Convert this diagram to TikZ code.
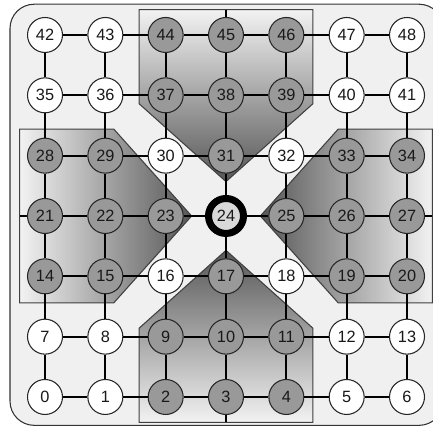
\documentclass[tikz,border=0pt]{standalone}
\usepackage{fontspec}
\setmainfont{Liberation Sans}
\usepackage{tikz}

\begin{document}
\begin{tikzpicture}[
    nodo/.style={circle, draw=black!85, line width=0.5pt, fill=white, text=black!90,
      minimum size=0.58cm, inner sep=0pt, font=\fontsize{7.7}{9}\selectfont},
    nodogris/.style={nodo, fill=black!40},
    centro/.style={nodo, fill=black!15, draw=black, line width=3.3pt},
    zona/.style={draw=black!75, line width=0.5pt},
    arista/.style={line width=0.9pt}
  ]
  \useasboundingbox (-3.746,-3.50) rectangle (3.431,3.58);

  % Marco (fondo gris claro)
  \draw[fill=black!6, draw=black!80, line width=0.5pt, rounded corners=0.4cm]
    (-3.58,-3.47) rectangle (3.6,3.51);

  % Zonas sombreadas (claro fuera, oscuro hacia el centro)
  \draw[zona, top color=black!5, bottom color=black!66]
    (-1.44,3.42) -- (1.44,3.42) -- (1.44,1.86) -- (0,0.57) -- (-1.44,1.86) -- cycle; % arriba
  \draw[zona, bottom color=black!5, top color=black!66]
    (-1.44,-3.42) -- (1.44,-3.42) -- (1.44,-1.86) -- (0,-0.57) -- (-1.44,-1.86) -- cycle; % abajo
  \draw[zona, left color=black!5, right color=black!66]
    (-3.42,-1.44) -- (-3.42,1.44) -- (-1.86,1.44) -- (-0.57,0) -- (-1.86,-1.44) -- cycle; % izquierda
  \draw[zona, right color=black!5, left color=black!66]
    (3.42,-1.44) -- (3.42,1.44) -- (1.86,1.44) -- (0.57,0) -- (1.86,-1.44) -- cycle; % derecha

  % Nodos blancos
  \foreach \i in {0,1,5,6,7,8,12,13,16,18,30,32,35,36,40,41,42,43,47,48}
    \node[nodo] (n\i) at ({mod(\i,7)-3},{div(\i,7)-3}) {\i};

  % Nodos grises (dentro de las zonas)
  \foreach \i in {2,3,4,9,10,11,14,15,17,19,20,21,22,23,25,26,27,28,29,31,33,34,37,38,39,44,45,46}
    \node[nodogris] (n\i) at ({mod(\i,7)-3},{div(\i,7)-3}) {\i};

  % Nodo central
  \node[centro] (n24) at (0,0) {24};

  % Aristas verticales
  \foreach \i in {0,...,41} {
    \pgfmathtruncatemacro\j{\i+7}
    \draw[arista] (n\i) -- (n\j);
  }

  % Aristas horizontales
  \foreach \f in {0,...,6}
    \foreach \c in {0,...,5} {
      \pgfmathtruncatemacro\i{7*\f+\c}
      \pgfmathtruncatemacro\j{\i+1}
      \draw[arista] (n\i) -- (n\j);
    }

  % Salidas hasta el borde de las zonas
  \coordinate (arriba) at (0,3.42);
  \coordinate (abajo) at (0,-3.42);
  \coordinate (izq) at (-3.42,0);
  \coordinate (der) at (3.42,0);
  \draw[arista] (n45) -- (arriba);
  \draw[arista] (n3) -- (abajo);
  \draw[arista] (n21) -- (izq);
  \draw[arista] (n27) -- (der);

\end{tikzpicture}
\end{document}
